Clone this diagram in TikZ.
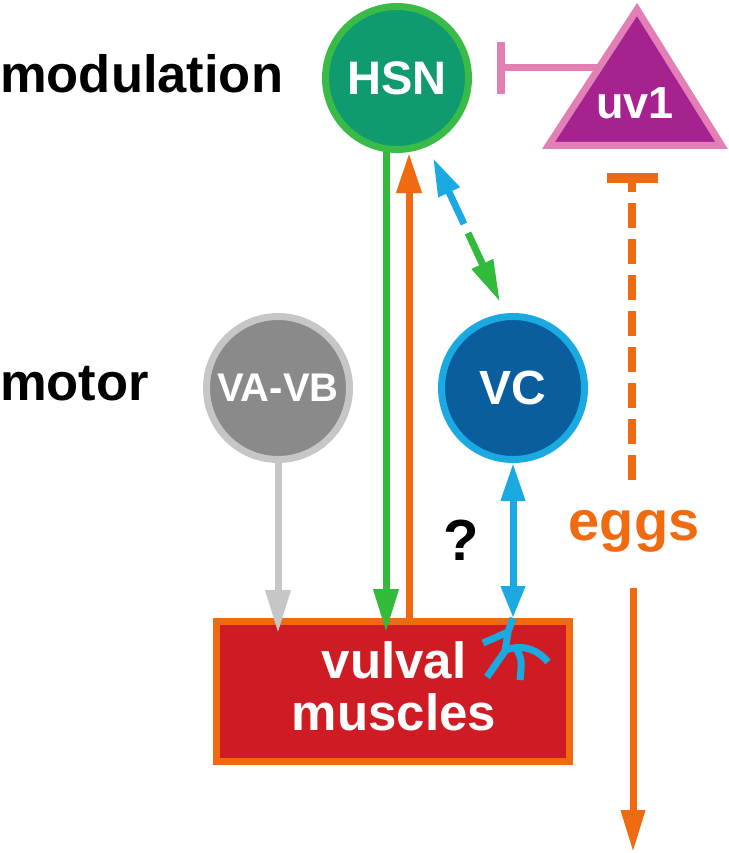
\documentclass[tikz,border=0pt]{standalone}
\usepackage{fontspec}
\setmainfont{Liberation Sans}
\usetikzlibrary{arrows.meta,calc}
\definecolor{hsnfill}{RGB}{16,154,112}
\definecolor{hsnborder}{RGB}{58,186,70}
\definecolor{greenarrow}{RGB}{50,186,58}
\definecolor{orangec}{RGB}{240,106,16}
\definecolor{uvfill}{RGB}{166,34,143}
\definecolor{uvborder}{RGB}{226,127,180}
\definecolor{vcfill}{RGB}{11,94,158}
\definecolor{bluec}{RGB}{27,169,226}
\definecolor{vavbfill}{RGB}{138,138,138}
\definecolor{vavbborder}{RGB}{198,198,198}
\definecolor{boxfill}{RGB}{207,28,36}
\begin{document}
\begin{tikzpicture}[x=1pt,y=-1pt,
  lbl/.style={inner sep=0pt, font=\fontsize{52.5}{53}\selectfont\bfseries},
  neuron/.style={circle, line width=7pt, minimum size=143pt, inner sep=0pt, text=white},
  conn/.style={line width=7pt},
  tipA/.style={-{Triangle[length=43pt,width=24pt]}},
]
\useasboundingbox (0,0) rectangle (728,853);

% row labels
\node[lbl, anchor=base west] (modlbl) at (0,93) {modulation};
\node[lbl, anchor=base west] (motlbl) at (0,400) {motor};

% vulval muscles box
\node[rectangle, fill=boxfill, draw=orangec, line width=7pt, minimum width=353pt, minimum height=140pt, inner sep=0pt] (VM) at (393,691.5) {};
\node[text=white, align=center, inner sep=0pt, font=\fontsize{51}{52}\selectfont\bfseries] (VMlbl) at (394,686) {vulval\\muscles};

% neurons
\node[neuron, fill=hsnfill, draw=hsnborder, font=\fontsize{47}{47}\selectfont\bfseries] (HSN) at (397,78) {HSN};
\node[neuron, fill=vavbfill, draw=vavbborder, font=\fontsize{40}{40}\selectfont\bfseries] (VAVB) at (278,388) {VA-VB};
\node[neuron, fill=vcfill, draw=bluec, font=\fontsize{48}{48}\selectfont\bfseries] (VC) at (513,388) {VC};

% uv1 -| HSN inhibition
\coordinate (uvedge) at (600,68);
\draw[conn, color=uvborder, -{Bar[width=52pt,line width=8pt]}] (uvedge) -- ($(HSN.east)+(25,-10)$);

% uv1 triangle
\draw[line width=7pt, fill=uvfill, draw=uvborder, miter limit=10] (637,9.5) -- (721.6,145.5) -- (548.4,145.5) -- cycle;
\node[text=white, inner sep=0pt, font=\fontsize{45}{45}\selectfont\bfseries] (uv1) at (635,103) {uv1};

% arrows to muscles
\draw[conn, color=vavbborder, tipA] (VAVB.south) -- ($(VAVB.south |- VM.north)+(0,15)$);
\draw[conn, color=greenarrow, tipA] ($(HSN.south)+(-11,-1)$) -- ($(VM.north)+(-7,14)$);
\draw[conn, color=orangec, -{Triangle[length=40pt,width=24pt]}] ($(VM.north)+(16,0)$) -- ($(HSN.south)+(12,0)$);

% VC <-> muscles
\coordinate (fk) at (VC.south |- VM.north);
\draw[conn, color=bluec, {Triangle[length=38pt,width=23pt]}-{Triangle[length=32pt,width=23pt]}] (VC.south) -- (fk);
\draw[conn, color=bluec] (fk) -- ($(fk)+(-5,14)$) -- ($(fk)+(-8,33)$) -- ($(fk)+(-26,59)$);
\draw[conn, color=bluec] ($(fk)+(-5,14)$) -- ($(fk)+(-30,25)$);
\draw[conn, color=bluec] ($(fk)+(-7,32)$) .. controls ($(fk)+(12,25)$) and ($(fk)+(27,34)$) .. ($(fk)+(35,44)$);
\draw[conn, color=bluec] ($(fk)+(3,30)$) .. controls ($(fk)+(9,42)$) .. ($(fk)+(7,62)$);

% HSN <-> VC dashed
\coordinate (hv1) at (433,158);
\coordinate (hv1m) at (464,224);
\coordinate (hv2m) at (468,233);
\coordinate (hv2) at (500,302);
\draw[conn, color=bluec, -{Triangle[length=38pt,width=22pt]}] (hv1m) -- (hv1);
\draw[conn, color=greenarrow, -{Triangle[length=42pt,width=22pt]}] (hv2m) -- (hv2);

% question mark
\node[inner sep=0pt, anchor=base, font=\fontsize{58}{58}\selectfont\bfseries] (qm) at (461,560) {?};

% eggs
\node[inner sep=0pt, anchor=base, text=orangec, font=\fontsize{56}{56}\selectfont\bfseries] (eggs) at (634,540) {eggs};
\coordinate (eggsA) at (632,480);
\coordinate (uvbar) at (632,173);
\draw[line width=8pt, color=orangec, dash pattern=on 25pt off 11pt, -{Bar[width=51pt,line width=10pt]}] (eggsA) -- (uvbar);
\coordinate (eggsB) at (633,588);
\coordinate (eggsC) at (633,852);
\draw[conn, color=orangec, -{Triangle[length=42pt,width=23pt]}] (eggsB) -- (eggsC);
\end{tikzpicture}
\end{document}
